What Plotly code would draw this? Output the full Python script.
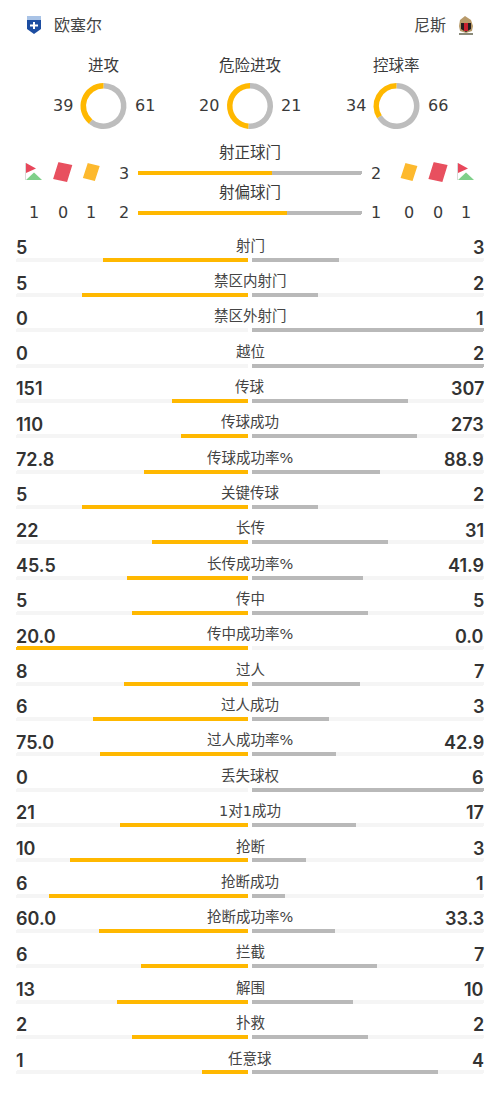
import plotly.graph_objects as go

team_home = "欧塞尔"
team_away = "尼斯"

donut_titles = ["进攻", "危险进攻", "控球率"]
donut_home = [39, 20, 34]
donut_away = [61, 21, 66]

shot_titles = ["射正球门", "射偏球门"]
shot_home = [3, 2]
shot_away = [2, 1]

# corner, red, yellow (home) / yellow, red, corner (away), second row only
card_home = ["1", "0", "1"]
card_away = ["0", "0", "1"]

stat_names = ["射门", "禁区内射门", "禁区外射门", "越位", "传球", "传球成功", "传球成功率%", "关键传球",
              "长传", "长传成功率%", "传中", "传中成功率%", "过人", "过人成功", "过人成功率%", "丢失球权",
              "1对1成功", "抢断", "抢断成功", "抢断成功率%", "拦截", "解围", "扑救", "任意球"]
stat_home = ["5", "5", "0", "0", "151", "110", "72.8", "5", "22", "45.5", "5", "20.0",
             "8", "6", "75.0", "0", "21", "10", "6", "60.0", "6", "13", "2", "1"]
stat_away = ["3", "2", "1", "2", "307", "273", "88.9", "2", "31", "41.9", "5", "0.0",
             "7", "3", "42.9", "6", "17", "3", "1", "33.3", "7", "10", "2", "4"]

W, H = 500, 1101
YELLOW = "#FFB800"
GREY = "#B9B9B9"
TRACK = "#F5F5F5"
TEXT = "#3A3A3A"
FONT = "DejaVu Sans, Noto Sans CJK SC"
NUM_FONT = "Inter, Roboto"


def px_x(x):
    return x / W


def px_y(y):
    return 1 - y / H


def path(points, close=True):
    # points are page pixels, shapes want paper coordinates
    s = "M" + " L".join(f"{px_x(x):.5f},{px_y(y):.5f}" for x, y in points)
    return s + (" Z" if close else "")


def tilted_card(cx, cy, w, h, lean):
    return [(cx - w / 2 + lean, cy - h / 2), (cx + w / 2 + lean, cy - h / 2 + 2.6),
            (cx + w / 2 - lean, cy + h / 2), (cx - w / 2 - lean, cy + h / 2 - 2.6)]


def poly(points, color, line=None, width=0):
    return dict(type="path", xref="paper", yref="paper", path=path(points), fillcolor=color,
                line=dict(color=line or color, width=width), layer="above")


def flag_shapes(x):
    return [
        poly([(x, 163), (x + 1, 163), (x + 1, 180), (x, 180)], "#D9D9D9"),
        poly([(x + 1, 180), (x + 9, 172.5), (x + 17, 180)], "#7FD08A"),
        poly([(x + 1, 163), (x + 11, 168.5), (x + 1, 173)], "#E8475B"),
    ]


fig = go.Figure()

home_share = []
away_share = []
for a, b in zip(stat_home, stat_away):
    total = float(a) + float(b)
    home_share.append(float(a) / total)
    away_share.append(float(b) / total)

rows = list(range(len(stat_names)))
bar_w = 4 / 35.33
for shares, color, xa in [([1] * len(rows), TRACK, "x"), (home_share, YELLOW, "x"),
                          ([1] * len(rows), TRACK, "x2"), (away_share, GREY, "x2")]:
    fig.add_trace(go.Bar(x=shares, y=rows, orientation="h", width=bar_w, xaxis=xa, yaxis="y",
                         marker=dict(color=color, cornerradius=2, line=dict(width=0)),
                         hoverinfo="skip", showlegend=False))

mid_rows = [0, 1]
mid_share = [h / (h + a) for h, a in zip(shot_home, shot_away)]
fig.add_trace(go.Bar(x=[1, 1], y=mid_rows, orientation="h", width=0.1, xaxis="x3", yaxis="y3",
                     marker=dict(color=GREY, cornerradius=2, line=dict(width=0)),
                     hoverinfo="skip", showlegend=False))
fig.add_trace(go.Bar(x=mid_share, y=mid_rows, orientation="h", width=0.1, xaxis="x3", yaxis="y3",
                     marker=dict(color=YELLOW, line=dict(width=0)),
                     hoverinfo="skip", showlegend=False))

donut_x = [103.5, 250, 396.5]
for cx, a, b in zip(donut_x, donut_home, donut_away):
    # away first going clockwise from 12 o'clock leaves home on the left
    fig.add_trace(go.Pie(values=[b, a], hole=0.76, sort=False, direction="clockwise", rotation=0,
                         marker=dict(colors=["#BDBDBD", YELLOW], line=dict(width=0)),
                         textinfo="none", hoverinfo="skip", showlegend=False,
                         domain=dict(x=[px_x(cx - 23), px_x(cx + 23)], y=[px_y(129), px_y(83)])))

notes = []


def note(x, y, text, size, family=FONT, anchor="center", color=TEXT, weight=None):
    notes.append(dict(x=px_x(x), y=px_y(y), xref="paper", yref="paper", text=text, showarrow=False,
                      xanchor=anchor, yanchor="middle",
                      font=dict(size=size, family=family, color=color, weight=weight)))


note(52, 25, team_home, 16, anchor="left", color="#444444")
note(448, 25, team_away, 16, anchor="right", color="#444444")

for cx, title, a, b in zip(donut_x, donut_titles, donut_home, donut_away):
    note(cx, 66.5, title, 15.5)
    note(cx - 41, 106, str(a), 16)
    note(cx + 41, 106, str(b), 16)

for i, title in enumerate(shot_titles):
    note(250, 153 + 40 * i, title, 15.5)
    note(124, 173 + 40 * i, str(shot_home[i]), 16)
    note(376, 173 + 40 * i, str(shot_away[i]), 16)

for x, v in zip([34, 63, 91], card_home):
    note(x, 213, v, 16)
for x, v in zip([409, 438, 466], card_away):
    note(x, 213, v, 16)

for i, name in enumerate(stat_names):
    notes.append(dict(x=0.5, y=i, xref="paper", yref="y", yshift=14, text=name, showarrow=False,
                      xanchor="center", yanchor="middle", font=dict(size=14.5, family=FONT, color="#444444")))
    notes.append(dict(x=px_x(16), y=i, xref="paper", yref="y", yshift=12, text=stat_home[i], showarrow=False,
                      xanchor="left", yanchor="middle", xshift=-2,
                      font=dict(size=18, family=NUM_FONT, color="#333333", weight=600)))
    notes.append(dict(x=px_x(484), y=i, xref="paper", yref="y", yshift=12, text=stat_away[i], showarrow=False,
                      xanchor="right", yanchor="middle", xshift=2,
                      font=dict(size=18, family=NUM_FONT, color="#333333", weight=600)))

shapes = []
shapes += flag_shapes(25)
shapes += flag_shapes(457)
shapes.append(poly(tilted_card(62.7, 172, 12.5, 18, 2.4), "#E8505F", "#E8505F", 1.5))
shapes.append(poly(tilted_card(91.3, 172, 10.5, 16, 2.2), "#FDB92E", "#FDB92E", 1.5))
shapes.append(poly(tilted_card(409, 172, 10.5, 16, 2.2), "#FDB92E", "#FDB92E", 1.5))
shapes.append(poly(tilted_card(438, 172, 12.5, 18, 2.4), "#E8505F", "#E8505F", 1.5))

# badges, home
shapes.append(poly([(27, 16), (41, 16), (41, 29), (34, 34), (27, 29)], "#1C4DA1"))
shapes.append(poly([(27, 16), (41, 16), (41, 20), (27, 20)], "#A9C3E6"))
shapes.append(poly([(33, 22), (35, 22), (35, 24.5), (38, 24.5), (38, 26.5), (35, 26.5), (35, 29), (33, 29),
                    (33, 26.5), (30, 26.5), (30, 24.5), (33, 24.5)], "#FFFFFF"))
# badges, away
shapes.append(poly([(460, 20), (465, 16), (471, 20), (473, 26), (472, 31), (466, 33), (460, 31), (459, 26)], "#B89A6A"))
shapes.append(poly([(461, 23), (471, 23), (471, 29), (466, 32), (461, 29)], "#231F20"))
shapes.append(poly([(464, 23), (468, 23), (468, 31), (464, 31)], "#C8202F"))
shapes.append(poly([(459, 33), (473, 33), (473, 35), (459, 35)], "#8A8A7A"))

hidden = dict(visible=False, showgrid=False, zeroline=False, fixedrange=True)
top = 259.67 - 35.33 / 2
bottom = top + 35.33 * len(rows)

fig.update_layout(
    width=W, height=H, margin=dict(l=0, r=0, t=0, b=0, pad=0),
    paper_bgcolor="white", plot_bgcolor="white", barmode="overlay", bargap=0,
    xaxis=dict(domain=[px_x(16), px_x(248)], range=[1, 0], anchor="y", **hidden),
    xaxis2=dict(domain=[px_x(252), px_x(484)], range=[0, 1], anchor="y", **hidden),
    yaxis=dict(domain=[px_y(bottom), px_y(top)], range=[len(rows) - 0.5, -0.5], **hidden),
    xaxis3=dict(domain=[px_x(138), px_x(362)], range=[0, 1], anchor="y3", **hidden),
    yaxis3=dict(domain=[px_y(233), px_y(153)], range=[1.5, -0.5], anchor="x3", **hidden),
    annotations=notes, shapes=shapes,
)

# the page keeps the browser's default 8px body margin otherwise
fig.write_html("out.html", config=dict(displayModeBar=False),
               post_script="document.body.style.margin='0';document.documentElement.style.overflow='hidden';")
